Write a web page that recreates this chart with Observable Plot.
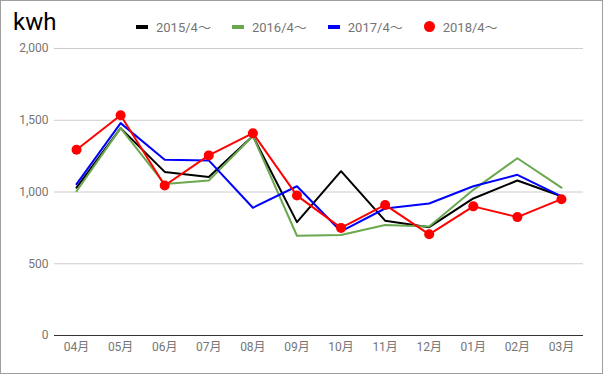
<!DOCTYPE html>
<html><head><meta charset="utf-8">
<script src="https://cdn.jsdelivr.net/npm/d3@7"></script>
<script src="https://cdn.jsdelivr.net/npm/@observablehq/plot@0.6"></script>
<style>
html,body{margin:0;padding:0;background:#fff;}
#wrap{position:relative;width:601px;height:372px;border:1px solid #9e9e9e;font-family:Roboto,"Noto Sans CJK JP",sans-serif;overflow:hidden;}
#title{position:absolute;left:12px;top:7px;font-size:24px;color:#000;}
#legend{position:absolute;left:135px;top:16px;font-size:13px;color:#757575;display:flex;align-items:center;}
.item{display:flex;align-items:center;margin-right:21px;}
.sw{display:inline-block;width:12px;height:4px;margin-right:8px;}
.dot{display:inline-block;width:11px;height:11px;border-radius:50%;margin-right:8px;}
#chart{position:absolute;left:-1px;top:-1px;}
#chart svg{max-width:none;}
</style></head>
<body><div id="wrap"><div id="title">kwh</div><div id="legend"></div><div id="chart"></div></div>
<script>
const months = ["04月","05月","06月","07月","08月","09月","10月","11月","12月","01月","02月","03月"];
const seriesNames = ["2015/4～","2016/4～","2017/4～","2018/4～"];
const seriesColors = ["#000000","#6aa84f","#0000ff","#ff0000"];
const s2015 = [1030,1445,1140,1105,1390,790,1145,800,755,955,1080,970];
const s2016 = [1005,1445,1055,1080,1390,695,700,770,760,1015,1235,1030];
const s2017 = [1055,1480,1225,1220,890,1040,725,885,920,1040,1120,970];
const s2018 = [1295,1535,1045,1255,1410,975,750,910,705,900,825,950];
const yTicks = [0,500,1000,1500,2000];

const allSeries = [s2015,s2016,s2017,s2018];
const rows = [];
allSeries.forEach((s,i)=>s.forEach((v,j)=>rows.push({series:seriesNames[i],month:months[j],value:v})));

const legend = document.getElementById("legend");
seriesNames.forEach((n,i)=>{
  const it=document.createElement("div");it.className="item";
  const sw=document.createElement("span");
  sw.className = i===3 ? "dot" : "sw";
  sw.style.background=seriesColors[i];
  it.appendChild(sw);
  const t=document.createElement("span");t.textContent=n;it.appendChild(t);
  legend.appendChild(it);
});

const chart = Plot.plot({
  width: 603, height: 374,
  marginTop: 48, marginBottom: 39, marginLeft: 54, marginRight: 20,
  style: {fontFamily: 'Roboto,"Noto Sans CJK JP",sans-serif', fontSize: "12px", color: "#757575", background: "transparent"},
  x: {type: "point", domain: months, padding: 0.5, round: false, label: null},
  y: {domain: [0,2000], label: null},
  color: {domain: seriesNames, range: seriesColors},
  marks: [
    Plot.ruleY(yTicks.filter(d=>d>0), {stroke: "#cccccc", strokeWidth: 1}),
    Plot.ruleY([0], {stroke: "#333333", strokeWidth: 1}),
    Plot.axisY(yTicks, {tickSize: 0, tickPadding: 6, tickFormat: d3.format(","), fill: "#757575"}),
    Plot.axisX(months, {tickSize: 0, tickPadding: 7, fill: "#757575"}),
    Plot.line(rows, {x: "month", y: "value", z: "series", stroke: "series", strokeWidth: 2}),
    Plot.dot(rows.filter(d=>d.series===seriesNames[3]), {x: "month", y: "value", r: 5, fill: seriesColors[3], stroke: "none"})
  ]
});
document.getElementById("chart").appendChild(chart);
</script></body></html>
